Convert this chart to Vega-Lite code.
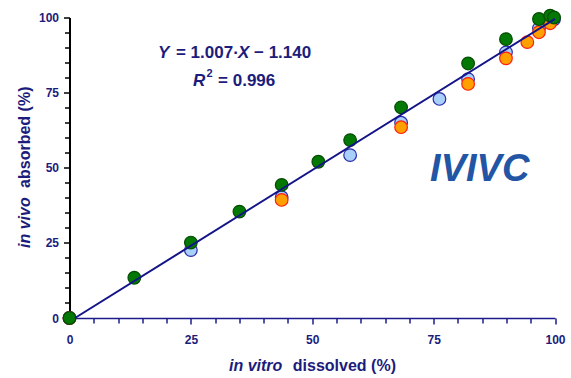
{
  "$schema": "https://vega.github.io/schema/vega-lite/v6.json",
  "width": 485.5,
  "height": 300.5,
  "autosize": "none",
  "padding": {"left": 69.5, "top": 17.5, "right": 16, "bottom": 60},
  "background": "white",
  "config": {"view": {"stroke": null}},
  "datasets": {
    "points": [
      {"s": "blue", "x": 0, "y": 0},
      {"s": "blue", "x": 25, "y": 22.6},
      {"s": "blue", "x": 43.7, "y": 40.2},
      {"s": "blue", "x": 57.8, "y": 54.2},
      {"s": "blue", "x": 68.3, "y": 65.0},
      {"s": "blue", "x": 76.2, "y": 72.9},
      {"s": "blue", "x": 82.1, "y": 79.5},
      {"s": "blue", "x": 89.9, "y": 88.4},
      {"s": "blue", "x": 96.7, "y": 96.4},
      {"s": "blue", "x": 99.8, "y": 99.4},
      {"s": "orange", "x": 0, "y": 0},
      {"s": "orange", "x": 43.7, "y": 39.3},
      {"s": "orange", "x": 68.3, "y": 63.5},
      {"s": "orange", "x": 82.1, "y": 77.9},
      {"s": "orange", "x": 89.9, "y": 86.4},
      {"s": "orange", "x": 94.3, "y": 91.8},
      {"s": "orange", "x": 96.7, "y": 95.1},
      {"s": "orange", "x": 99, "y": 98.1},
      {"s": "green", "x": 0, "y": 0},
      {"s": "green", "x": 13.35, "y": 13.4},
      {"s": "green", "x": 25, "y": 25.1},
      {"s": "green", "x": 35, "y": 35.4},
      {"s": "green", "x": 43.7, "y": 44.3},
      {"s": "green", "x": 51.25, "y": 52.0},
      {"s": "green", "x": 57.8, "y": 59.2},
      {"s": "green", "x": 68.3, "y": 70.1},
      {"s": "green", "x": 82.1, "y": 84.7},
      {"s": "green", "x": 89.9, "y": 92.8},
      {"s": "green", "x": 96.7, "y": 99.5},
      {"s": "green", "x": 99, "y": 100.6},
      {"s": "green", "x": 99.8, "y": 100}
    ],
    "fit": [
      {"x": 1.13, "y": 0},
      {"x": 100, "y": 99.56}
    ],
    "eqNormal": [
      {"x": 21.93, "y": 88.1, "t": "= 1.007·"},
      {"x": 38.0, "y": 88.1, "t": "− 1.140"},
      {"x": 30.6, "y": 78.8, "t": "= 0.996"}
    ],
    "eqItalic": [
      {"x": 18.23, "y": 88.1, "t": "Y"},
      {"x": 34.7, "y": 88.1, "t": "X"},
      {"x": 25.44, "y": 78.8, "t": "R"}
    ],
    "sup": [
      {"x": 28.2, "y": 81.3, "t": "2"}
    ],
    "xTitleItalic": [
      {"x": 32.85, "y": -16.1, "t": "in vitro"}
    ],
    "xTitleNormal": [
      {"x": 46.0, "y": -16.1, "t": "dissolved (%)"}
    ],
    "yTitleItalic": [
      {"x": -9.17, "y": 23.3, "t": "in vivo"}
    ],
    "yTitleNormal": [
      {"x": -9.17, "y": 43.3, "t": "absorbed (%)"}
    ],
    "big": [
      {"x": 84.5, "y": 49.3, "t": "IVIVC"}
    ]
  },
  "encoding": {
    "x": {
      "field": "x", "type": "quantitative",
      "scale": {"domain": [0, 100], "nice": false, "zero": false},
      "axis": {
        "values": [0,5,10,15,20,25,30,35,40,45,50,55,60,65,70,75,80,85,90,95,100],
        "labelExpr": "datum.value % 25 === 0 ? datum.label : ''",
        "labelOverlap": false, "labelFlush": false,
        "grid": false,
        "domainColor": "#1c1c8c", "domainWidth": 1.5,
        "tickColor": "#1c1c8c", "tickWidth": 1.5,
        "tickSize": {"condition": {"test": "datum.value % 25 === 0", "value": 6}, "value": 5},
        "labelFont": "Liberation Sans", "labelFontSize": 12, "labelFontWeight": "bold", "labelColor": "#1c1c7c",
        "labelPadding": 10,
        "title": null
      }
    },
    "y": {
      "field": "y", "type": "quantitative",
      "scale": {"domain": [0, 100], "nice": false, "zero": false},
      "axis": {
        "values": [0,5,10,15,20,25,30,35,40,45,50,55,60,65,70,75,80,85,90,95,100],
        "labelExpr": "datum.value % 25 === 0 ? datum.label : ''",
        "labelOverlap": false, "labelFlush": false,
        "grid": false,
        "domainColor": "#000000", "domainWidth": 2,
        "tickColor": "#000000", "tickWidth": 1.5,
        "tickSize": {"condition": {"test": "datum.value % 25 === 0", "value": 6}, "value": 5},
        "labelFont": "Liberation Sans", "labelFontSize": 12, "labelFontWeight": "bold", "labelColor": "#1c1c7c",
        "labelPadding": 5,
        "title": null
      }
    }
  },
  "layer": [
    {
      "data": {"name": "points"},
      "mark": {"type": "point", "filled": true, "shape": "circle", "size": 160, "strokeWidth": 1.2, "opacity": 1, "clip": false},
      "encoding": {
        "fill": {
          "field": "s", "type": "nominal", "legend": null,
          "scale": {"domain": ["blue", "orange", "green"], "range": ["#a9d0fa", "#ff9f00", "#047804"]}
        },
        "stroke": {
          "field": "s", "type": "nominal", "legend": null,
          "scale": {"domain": ["blue", "orange", "green"], "range": ["#2a2aa8", "#ff2010", "#034d03"]}
        }
      }
    },
    {
      "data": {"name": "fit"},
      "mark": {"type": "line", "color": "#14148a", "strokeWidth": 2, "clip": false},
      "encoding": {}
    },
    {
      "data": {"name": "eqNormal"},
      "mark": {"type": "text", "font": "Liberation Sans", "fontSize": 17, "fontWeight": "bold", "color": "#1c1c7c", "align": "left", "baseline": "middle"},
      "encoding": {"text": {"field": "t"}}
    },
    {
      "data": {"name": "eqItalic"},
      "mark": {"type": "text", "font": "Liberation Sans", "fontSize": 17, "fontWeight": "bold", "fontStyle": "italic", "color": "#1c1c7c", "align": "left", "baseline": "middle"},
      "encoding": {"text": {"field": "t"}}
    },
    {
      "data": {"name": "sup"},
      "mark": {"type": "text", "font": "Liberation Sans", "fontSize": 11, "fontWeight": "bold", "color": "#1c1c7c", "align": "left", "baseline": "middle"},
      "encoding": {"text": {"field": "t"}}
    },
    {
      "data": {"name": "xTitleItalic"},
      "mark": {"type": "text", "font": "Liberation Sans", "fontSize": 16, "fontWeight": "bold", "fontStyle": "italic", "color": "#1c1c7c", "align": "left", "baseline": "middle"},
      "encoding": {"text": {"field": "t"}}
    },
    {
      "data": {"name": "xTitleNormal"},
      "mark": {"type": "text", "font": "Liberation Sans", "fontSize": 16, "fontWeight": "bold", "color": "#1c1c7c", "align": "left", "baseline": "middle"},
      "encoding": {"text": {"field": "t"}}
    },
    {
      "data": {"name": "yTitleItalic"},
      "mark": {"type": "text", "font": "Liberation Sans", "fontSize": 16, "fontWeight": "bold", "fontStyle": "italic", "color": "#1c1c7c", "align": "left", "baseline": "middle", "angle": 270},
      "encoding": {"text": {"field": "t"}}
    },
    {
      "data": {"name": "yTitleNormal"},
      "mark": {"type": "text", "font": "Liberation Sans", "fontSize": 16, "fontWeight": "bold", "color": "#1c1c7c", "align": "left", "baseline": "middle", "angle": 270},
      "encoding": {"text": {"field": "t"}}
    },
    {
      "data": {"name": "big"},
      "mark": {"type": "text", "font": "Liberation Sans", "fontSize": 38, "fontWeight": "bold", "fontStyle": "italic", "color": "#2355a5", "align": "center", "baseline": "middle"},
      "encoding": {"text": {"field": "t"}}
    }
  ]
}
